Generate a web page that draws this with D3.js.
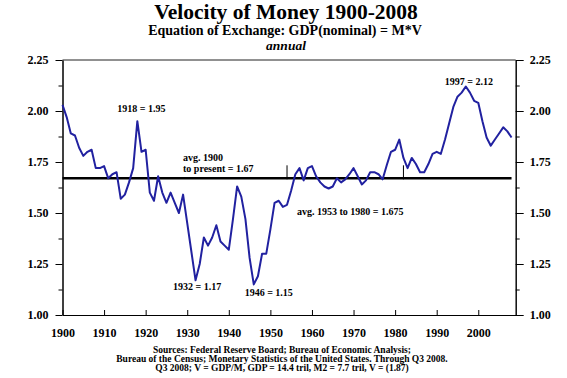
<!DOCTYPE html>
<html>
<head>
<meta charset="utf-8">
<script src="https://cdn.jsdelivr.net/npm/d3@7/dist/d3.min.js"></script>
<style>
  html, body { margin: 0; padding: 0; background: #fff; }
  svg { display: block; }
  text { font-family: "Liberation Serif", "Times New Roman", serif; font-weight: bold; fill: #000; }
</style>
</head>
<body>
<svg id="chart" width="567" height="378"></svg>
<script>
// ---- data ----
const years = d3.range(1900, 2009);
const velocity = [
  2.03, 1.97, 1.89, 1.88, 1.82, 1.78, 1.80, 1.81, 1.72, 1.72,
  1.73, 1.67, 1.69, 1.70, 1.57, 1.59, 1.65, 1.72, 1.95, 1.80,
  1.81, 1.60, 1.56, 1.68, 1.60, 1.55, 1.60, 1.55, 1.50, 1.59,
  1.45, 1.31, 1.17, 1.25, 1.38, 1.34, 1.38, 1.44, 1.36, 1.34,
  1.32, 1.47, 1.63, 1.58, 1.47, 1.28, 1.15, 1.19, 1.30, 1.30,
  1.42, 1.55, 1.56, 1.53, 1.54, 1.61, 1.69, 1.72, 1.66, 1.72,
  1.73, 1.68, 1.65, 1.63, 1.62, 1.63, 1.67, 1.65, 1.665, 1.69,
  1.72, 1.68, 1.64, 1.66, 1.70, 1.70, 1.69, 1.665, 1.735, 1.80,
  1.81, 1.86, 1.77, 1.72, 1.77, 1.74, 1.70, 1.70, 1.74, 1.79,
  1.80, 1.79, 1.86, 1.94, 2.02, 2.07, 2.09, 2.12, 2.09, 2.05,
  2.04, 1.95, 1.87, 1.83, 1.86, 1.89, 1.92, 1.90, 1.87
];
const avgAll = 1.67;
const avgMarkYears = [1954, 1982];
const yMajorTicks = [1.00, 1.25, 1.50, 1.75, 2.00, 2.25];
const yMinorTicks = [1.125, 1.375, 1.625, 1.875, 2.125];
const xTicks = [1900, 1910, 1920, 1930, 1940, 1950, 1960, 1970, 1980, 1990, 2000];
const annotations = [
  { text: "1918 = 1.95", year: 1918 },
  { text: "1932 = 1.17", year: 1932 },
  { text: "1946 = 1.15", year: 1946 },
  { text: "1997 = 2.12", year: 1997 }
];
const title = "Velocity of Money 1900-2008";
const subtitle = "Equation of Exchange: GDP(nominal) = M*V";
const subtitle2 = "annual";
const avgLabel1 = ["avg. 1900", "to present = 1.67"];
const avgLabel2 = "avg. 1953 to 1980 = 1.675";
const sources = [
  "Sources: Federal Reserve Board; Bureau of Economic Analysis;",
  "Bureau of the Census; Monetary Statistics of the United States. Through Q3 2008.",
  "Q3 2008; V = GDP/M, GDP = 14.4 tril, M2 = 7.7 tril, V = (1.87)"
];

// ---- layout ----
const svg = d3.select("#chart");
const L = 62.5, R = 515.7, T = 60, B = 315;
const x = d3.scaleLinear().domain([1900, 2009]).range([L, R]);
const y = d3.scaleLinear().domain([1, 2.25]).range([B, T]);
const SERIF = "'Liberation Serif', 'Times New Roman', serif";

// titles
svg.append("text").attr("x", 286).attr("y", 19).attr("text-anchor", "middle")
  .style("font-size", "21.5px").text(title);
svg.append("text").attr("x", 285).attr("y", 34.5).attr("text-anchor", "middle")
  .style("font-size", "14px").text(subtitle);
svg.append("text").attr("x", 286).attr("y", 49.5).attr("text-anchor", "middle")
  .style("font-size", "13.5px").style("font-style", "italic").text(subtitle2);

// frame top
svg.append("line").attr("x1", L).attr("x2", R).attr("y1", T).attr("y2", T)
  .attr("stroke", "#222").attr("stroke-width", 1);

// axes
const fmt = d3.format(".2f");
function styleAxis(g, fs) {
  g.attr("font-family", SERIF).attr("font-weight", "bold");
  g.selectAll("path").attr("stroke", "#000");
  g.selectAll("line").attr("stroke", "#000");
  g.selectAll("text").style("font-size", fs).style("font-family", SERIF)
    .style("font-weight", "bold").attr("fill", "#000");
}
const gl = svg.append("g").attr("transform", `translate(${L},0)`)
  .call(d3.axisLeft(y).tickValues(yMajorTicks).tickFormat(fmt).tickSizeInner(7).tickSizeOuter(0).tickPadding(7));
styleAxis(gl, "12px");
const glm = svg.append("g").attr("transform", `translate(${L},0)`)
  .call(d3.axisLeft(y).tickValues(yMinorTicks).tickFormat("").tickSizeInner(4).tickSizeOuter(0));
styleAxis(glm, "12px");
const gr = svg.append("g").attr("transform", `translate(${R},0)`)
  .call(d3.axisRight(y).tickValues(yMajorTicks).tickFormat(fmt).tickSizeInner(8).tickSizeOuter(0).tickPadding(6));
styleAxis(gr, "12px");
const grm = svg.append("g").attr("transform", `translate(${R},0)`)
  .call(d3.axisRight(y).tickValues(yMinorTicks).tickFormat("").tickSizeInner(4).tickSizeOuter(0));
styleAxis(grm, "12px");
const gx = svg.append("g").attr("transform", `translate(0,${B})`)
  .call(d3.axisBottom(x).tickValues(xTicks).tickFormat(d3.format("d")).tickSizeInner(-5).tickSizeOuter(0).tickPadding(13));
styleAxis(gx, "12px");

// average line
svg.append("line").attr("x1", x(1900)).attr("x2", x(2008))
  .attr("y1", y(avgAll)).attr("y2", y(avgAll))
  .attr("stroke", "#000").attr("stroke-width", 2.5);
svg.selectAll(".avgmark").data(avgMarkYears).enter().append("line")
  .attr("x1", d => x(d)).attr("x2", d => x(d))
  .attr("y1", y(avgAll) - 13).attr("y2", y(avgAll) + 1)
  .attr("stroke", "#000").attr("stroke-width", 1);

// series line
const line = d3.line().x((d, i) => x(years[i])).y(d => y(d));
svg.append("path").datum(velocity).attr("d", line)
  .attr("fill", "none").attr("stroke", "#2121a0").attr("stroke-width", 2)
  .attr("stroke-linejoin", "round");

// annotations
const annPos = {
  1918: { dx: 4, y: 112 },
  1932: { dx: 1.5, y: 290 },
  1946: { dx: 15, y: 296 },
  1997: { dx: 3, y: 85 }
};
svg.selectAll(".ann").data(annotations).enter().append("text")
  .attr("x", d => x(d.year) + annPos[d.year].dx)
  .attr("y", d => annPos[d.year].y)
  .attr("text-anchor", "middle").style("font-size", "10px")
  .text(d => d.text);

svg.append("text").attr("x", 183).attr("y", 161).style("font-size", "10px").text(avgLabel1[0]);
svg.append("text").attr("x", 183).attr("y", 172).style("font-size", "10px").text(avgLabel1[1]);
svg.append("text").attr("x", 297).attr("y", 215).style("font-size", "10px").text(avgLabel2);

// sources
sources.forEach((s, i) => {
  svg.append("text").attr("x", 282).attr("y", 353 + i * 9).attr("text-anchor", "middle")
    .style("font-size", "9.5px").text(s);
});
</script>
</body>
</html>
